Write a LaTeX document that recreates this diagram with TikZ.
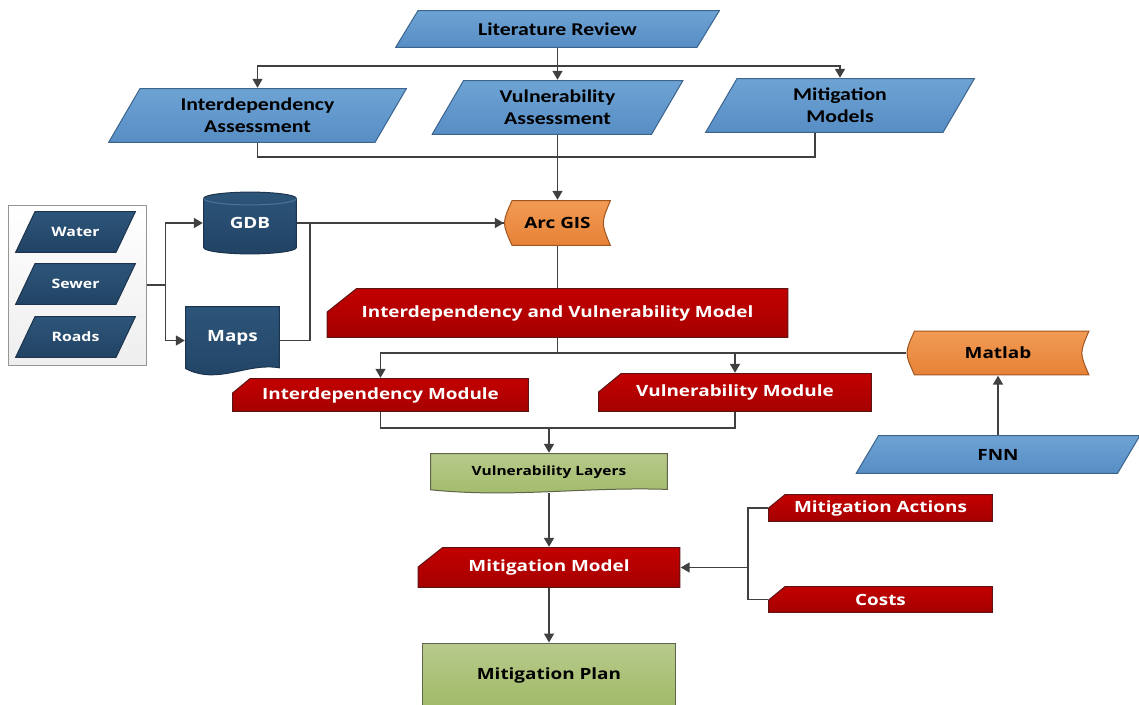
\documentclass[tikz,border=0pt]{standalone}
\usepackage{fontspec}
\setmainfont{Open Sans}[FakeStretch=1.22]
\newfontfamily\calfont{Carlito}[FakeStretch=1.21]
\usetikzlibrary{arrows.meta,calc}

\definecolor{linegray}{RGB}{64,64,64}
\definecolor{bluetop}{RGB}{110,163,212}
\definecolor{bluebot}{RGB}{86,141,196}
\definecolor{blueline}{RGB}{60,100,140}
\definecolor{navytop}{RGB}{45,85,122}
\definecolor{navybot}{RGB}{33,67,100}
\definecolor{navyline}{RGB}{28,52,78}
\definecolor{navyrim}{RGB}{75,115,155}
\definecolor{orangetop}{RGB}{242,155,85}
\definecolor{orangebot}{RGB}{230,130,55}
\definecolor{orangeline}{RGB}{160,85,30}
\definecolor{redtop}{RGB}{195,0,0}
\definecolor{redbot}{RGB}{165,0,0}
\definecolor{redline}{RGB}{95,20,20}
\definecolor{greentop}{RGB}{184,202,140}
\definecolor{greenbot}{RGB}{160,186,104}
\definecolor{greenline}{RGB}{95,100,75}
\definecolor{paneltop}{RGB}{255,255,255}
\definecolor{panelbot}{RGB}{238,238,238}
\definecolor{panelline}{RGB}{150,150,150}

\tikzset{
  conn/.style={draw=linegray, line width=1.6pt},
  arr/.style={conn, -{Triangle[length=9pt,width=10pt]}},
  shp/.style={top color=#1top, bottom color=#1bot, draw=#1line, line width=1pt},
  box/.style={inner sep=0pt, align=center, font=\bfseries\fontsize{15.5}{19}\selectfont},
  calib/.style={font=\calfont\bfseries\fontsize{18}{22}\selectfont},
  small/.style={font=\bfseries\fontsize{13}{16}\selectfont},
  pgram/.style 2 args={box, path picture={
    \shadedraw[shp=#2] let \p1=(path picture bounding box.south west), \p2=(path picture bounding box.north east) in
      (\x1+.6pt,\y1+.6pt) -- (\x2-#1pt,\y1+.6pt) -- (\x2-.6pt,\y2-.6pt) -- (\x1+#1pt,\y2-.6pt) -- cycle;}},
  card/.style n args={3}{box, text=white, path picture={
    \shadedraw[shp=#3] let \p1=(path picture bounding box.south west), \p2=(path picture bounding box.north east) in
      (\x1+.6pt,\y1+.6pt) -- (\x2-.6pt,\y1+.6pt) -- (\x2-.6pt,\y2-.6pt) -- (\x1+#1pt,\y2-.6pt) -- (\x1+.6pt,\y2-#2pt) -- cycle;}},
  store/.style={box, path picture={
    \shadedraw[shp=orange] let \p1=(path picture bounding box.south west), \p2=(path picture bounding box.north east) in
      (\x1+8pt,\y2-.6pt) -- (\x2-.6pt,\y2-.6pt) .. controls (\x2-10pt,{(\y1+\y2)/2}) .. (\x2-.6pt,\y1+.6pt)
      -- (\x1+8pt,\y1+.6pt) .. controls (\x1-2pt,{(\y1+\y2)/2}) .. (\x1+8pt,\y2-.6pt) -- cycle;}},
  doc/.style 2 args={box, path picture={
    \shadedraw[shp=#1] let \p1=(path picture bounding box.south west), \p2=(path picture bounding box.north east) in
      (\x1+.6pt,\y2-.6pt) -- (\x2-.6pt,\y2-.6pt) -- (\x2-.6pt,\y1+0.9*#2pt)
      .. controls (0.35*\x1+0.65*\x2,\y1+1.6*#2pt) and (0.65*\x1+0.35*\x2,\y1-1.3*#2pt) .. (\x1+.6pt,\y1+0.8*#2pt) -- cycle;}},
  cyl/.style={box, text=white, path picture={
    \shadedraw[shp=navy] ([xshift=.6pt,yshift=-7pt]path picture bounding box.north west)
      -- ([xshift=.6pt,yshift=7pt]path picture bounding box.south west)
      arc[start angle=180, end angle=360, x radius=46.4pt, y radius=6.4pt]
      -- ([xshift=-.6pt,yshift=-7pt]path picture bounding box.north east)
      arc[start angle=0, end angle=180, x radius=46.4pt, y radius=6.4pt] -- cycle;
    \draw[navyrim, line width=1pt] ([xshift=.6pt,yshift=-7pt]path picture bounding box.north west)
      arc[start angle=180, end angle=360, x radius=46.4pt, y radius=6.4pt];}},
}

\begin{document}
\begin{tikzpicture}[x=1pt, y=-1pt]
\useasboundingbox (0,0) rectangle (1139,704);

% literature
\node[pgram={23}{blue}, calib, minimum width=325, minimum height=38] (litrev) at (557.5,29) {Literature Review};
\node[pgram={32}{blue}, calib, minimum width=299, minimum height=55] (intass) at (257.5,115.5) {Interdependency\\Assessment};
\node[pgram={32}{blue}, calib, minimum width=252, minimum height=55] (vulass) at (557.5,107.5) {Vulnerability\\Assessment};
\node[pgram={32}{blue}, calib, minimum width=270, minimum height=55] (mitmods) at (840,105.5) {Mitigation\\Models};

% data
\node[shp=panel, minimum width=138, minimum height=160] (panel) at (77,285) {};
\node[pgram={20}{navy}, small, text=white, minimum width=121, minimum height=42] (water) at (75.5,232) {Water};
\node[pgram={20}{navy}, small, text=white, minimum width=121, minimum height=42] (sewer) at (75.5,284) {Sewer};
\node[pgram={20}{navy}, small, text=white, minimum width=121, minimum height=42] (roads) at (75.5,337) {Roads};
\node[cyl, minimum width=94, minimum height=63] (gdb) at (250,223) {GDB};
\node[doc={navy}{8}, text=white, minimum width=95, minimum height=69] (maps) at (232.5,340.5) {\raisebox{9pt}{Maps}};

% models
\node[store, minimum width=107, minimum height=46] (arcgis) at (557.5,223) {Arc GIS};
\node[card={30}{24}{red}, minimum width=462, minimum height=50] (ivm) at (557.5,313) {Interdependency and Vulnerability Model};
\node[card={18}{15}{red}, minimum width=297, minimum height=34] (intmod) at (380.5,395) {Interdependency Module};
\node[card={23}{19}{red}, minimum width=274, minimum height=39] (vulmod) at (735,392.5) {Vulnerability Module};
\node[store, minimum width=183, minimum height=45] (matlab) at (998,353) {Matlab};
\node[pgram={23}{blue}, minimum width=285, minimum height=39] (fnn) at (998,454.5) {FNN};

% mitigation
\node[doc={green}{4}, font=\bfseries\fontsize{12.7}{15}\selectfont, minimum width=238, minimum height=40] (vullay) at (549,473) {\raisebox{4pt}{Vulnerability Layers}};
\node[card={25}{20}{red}, minimum width=263, minimum height=41] (mitmdl) at (549,567.5) {Mitigation Model};
\node[card={17}{14}{red}, minimum width=225, minimum height=28] (mitact) at (880.5,508) {Mitigation Actions};
\node[card={17}{14}{red}, minimum width=225, minimum height=27] (costs) at (880.5,599.5) {Costs};
\node[box, shp=green, minimum width=253, minimum height=64] (mitplan) at (549,675) {Mitigation Plan};

% connectors
\draw[arr] (litrev.south) -- (vulass.north);
\draw[arr] (litrev.south) -- ++(0,18) -| (intass.north);
\draw[arr] (litrev.south) -- ++(0,18) -| (mitmods.north);
\draw[conn] (intass.south) -- ++(0,14) -| ([xshift=-25pt]mitmods.south);
\draw[arr] (vulass.south) -- (arcgis.north);

\draw[arr] (panel.east) -- ++(19,0) |- (gdb.west);
\draw[arr] (panel.east) -- ++(19,0) |- (maps.west);
\draw[conn] (maps.east) -- ++(30,0) |- (arcgis.west);
\draw[arr] (gdb.east) -- (arcgis.west);

\draw[conn] (arcgis.south) -- (ivm.north);
\draw[arr] (ivm.south) -- ++(0,15) -| (intmod.north);
\draw[arr] (ivm.south) -- ++(0,15) -| (vulmod.north);
\draw[conn] (matlab.west) -| (ivm.south);
\draw[arr] (fnn.north) -- (matlab.south);

\draw[conn] (intmod.south) -- ++(0,16) -| (vulmod.south);
\draw[arr] (intmod.south) -- ++(0,16) -| (vullay.north);
\draw[arr] (vullay.south) -- (mitmdl.north);
\draw[conn] (mitact.west) -- ++(-20,0) |- (costs.west);
\draw[arr] (mitact.west) -- ++(-20,0) |- (mitmdl.east);
\draw[arr] (mitmdl.south) -- (mitplan.north);
\end{tikzpicture}
\end{document}
